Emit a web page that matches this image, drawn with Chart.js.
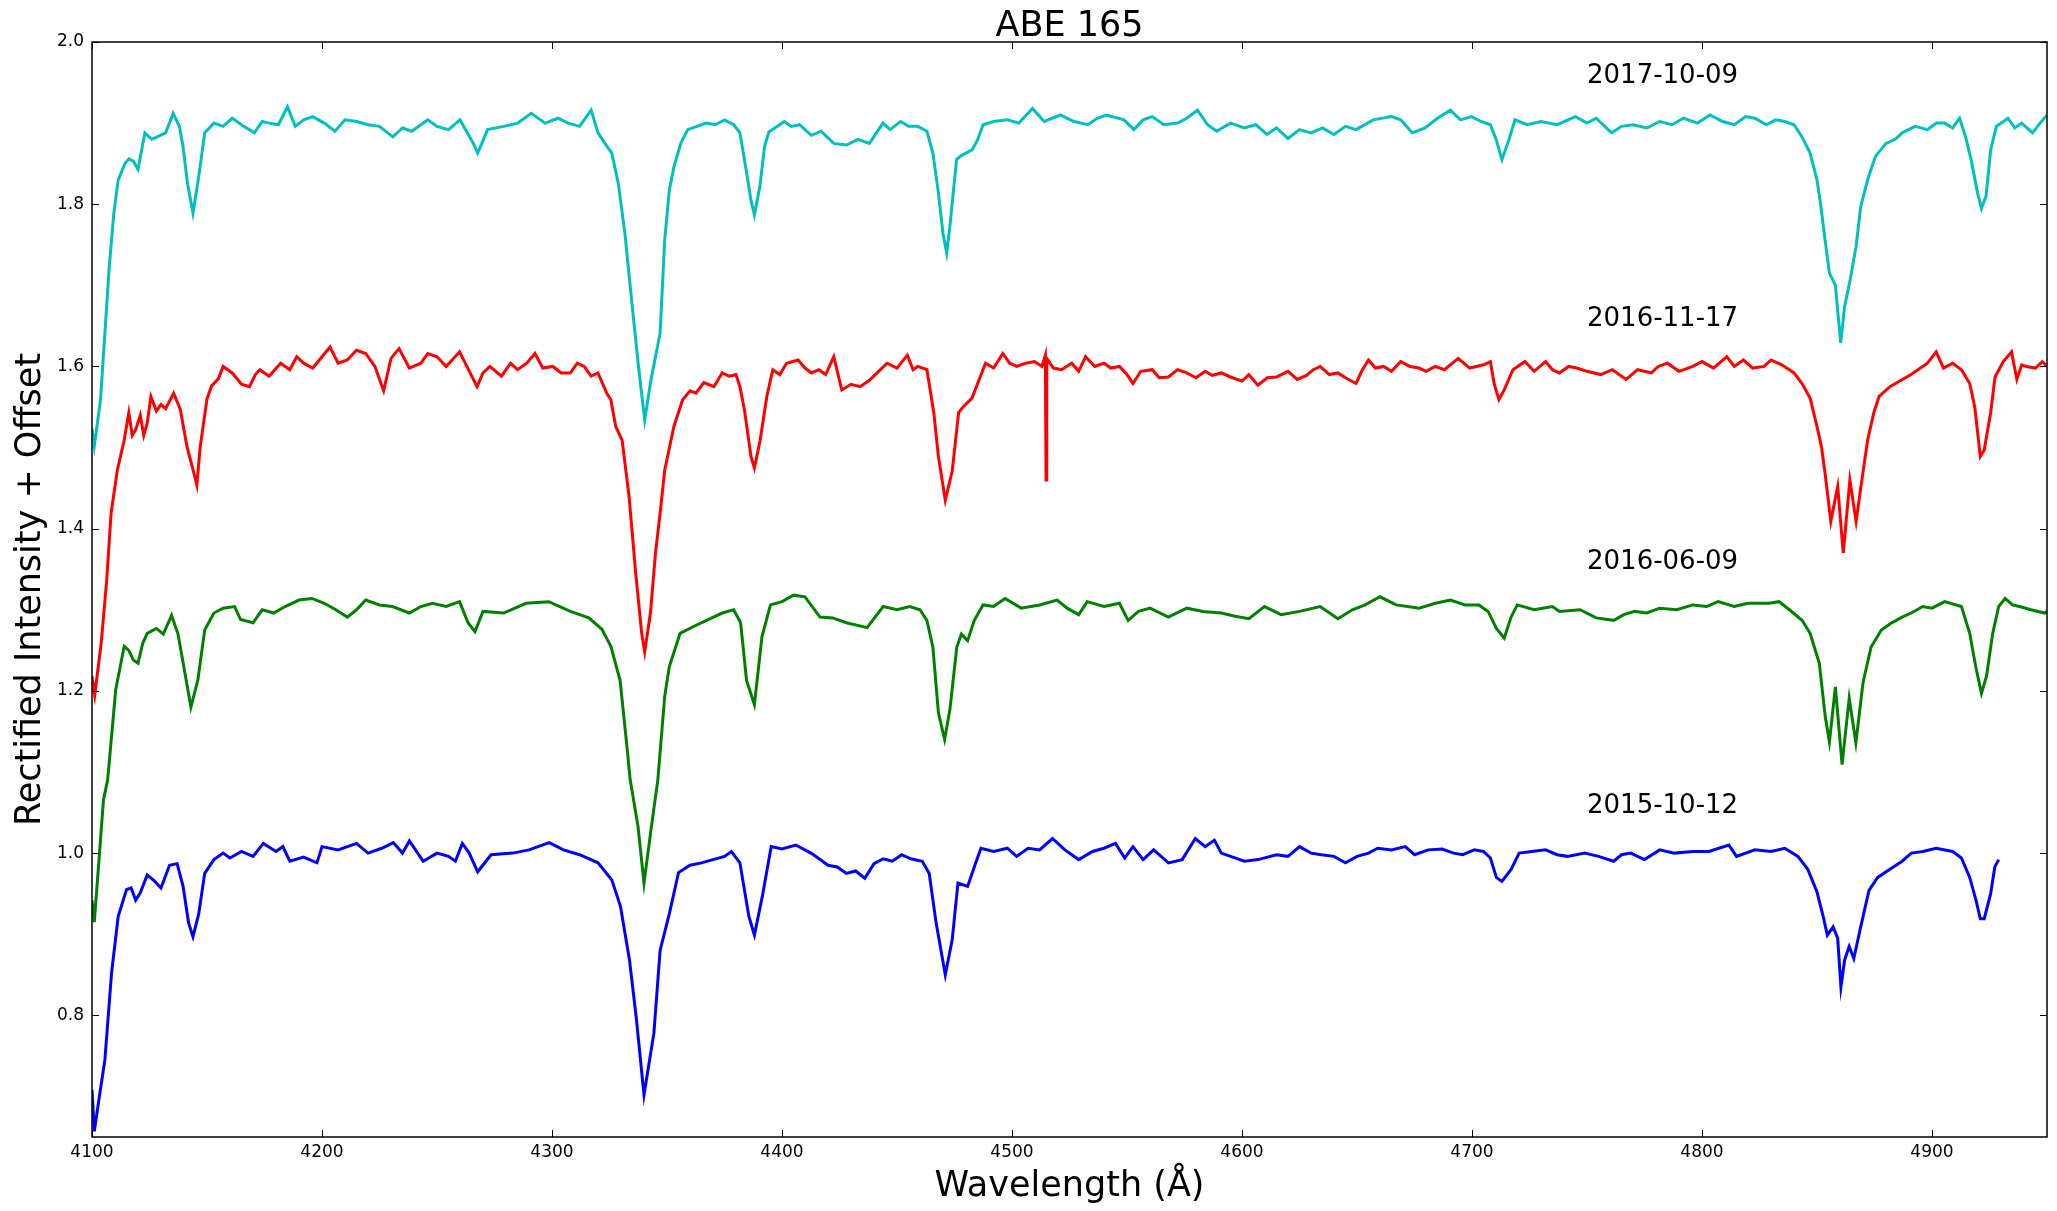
<!DOCTYPE html>
<html>
<head>
<meta charset="utf-8">
<title>ABE 165</title>
<script src="https://cdn.jsdelivr.net/npm/chart.js"></script>
<style>
  html, body { margin: 0; padding: 0; background: #fff; }
  #wrap { width: 2057px; height: 1211px; }
</style>
</head>
<body>
<div id="wrap"><canvas id="myChart" width="2057" height="1211"></canvas></div>
<script>
// Spectra (wavelength in A, rectified flux + offset)
const wave2015 = [4100,4101,4103,4105.6,4108.5,4111.4,4115,4117,4119,4121,4124,4127,4130,4133.7,4137,4139.6,4142,4143.9,4146.4,4149,4153,4157,4160,4165,4170,4174.5,4180,4183,4186,4192,4197.8,4200,4207,4215,4220,4226,4231,4235,4238,4244,4250,4255,4258,4261,4264,4267.7,4273.5,4283,4290,4298.8,4305,4312,4320,4326,4329.8,4333.7,4336.6,4340,4344.3,4347,4351,4355,4360,4365,4370,4375,4378,4381.7,4385.6,4388,4391.4,4395.3,4400,4406,4412.6,4416.6,4420,4424,4428,4432,4436,4440,4444,4448,4452,4456,4461,4464,4467,4471,4474,4476.5,4480.7,4483.6,4486.5,4492,4498,4502,4507,4512,4517.6,4523,4529,4535,4540,4545,4549,4552.6,4557,4561.6,4568,4574,4579.7,4584,4588,4591,4596,4601,4607,4615,4620,4625,4630,4634.5,4640,4645,4650,4655,4659,4665,4671,4675,4681,4687,4692,4696,4701,4705,4708,4710.6,4713,4717,4720.5,4726,4732,4737,4741.5,4749,4755,4761.6,4765,4769,4775,4781.6,4788,4796,4803,4811.7,4815,4823,4830,4836,4841.7,4846,4850,4852.6,4854.5,4857,4859,4860.4,4862,4864,4866,4869,4872.6,4876.4,4881.7,4887,4891,4896,4901.8,4909,4912.8,4916.4,4919.2,4921,4922.7,4925.5,4927.3,4929];
const flux2015 = [0.708,0.657,0.696,0.745,0.852,0.922,0.955,0.957,0.942,0.951,0.973,0.966,0.957,0.985,0.987,0.959,0.914,0.897,0.925,0.975,0.992,1.000,0.994,1.002,0.996,1.012,1.002,1.008,0.990,0.995,0.988,1.008,1.004,1.012,1.000,1.006,1.013,1.000,1.015,0.990,1.000,0.996,0.990,1.012,1.000,0.977,0.998,1.000,1.004,1.013,1.004,0.998,0.988,0.967,0.934,0.868,0.798,0.702,0.778,0.880,0.925,0.976,0.985,0.988,0.992,0.996,1.002,0.988,0.922,0.899,0.946,1.008,1.005,1.010,1.000,0.992,0.985,0.983,0.975,0.978,0.969,0.987,0.993,0.990,0.998,0.993,0.990,0.975,0.914,0.850,0.893,0.963,0.959,0.983,1.006,1.002,1.006,0.996,1.006,1.004,1.018,1.004,0.992,1.002,1.006,1.012,0.994,1.008,0.992,1.004,0.988,0.992,1.018,1.008,1.016,1.000,0.995,0.990,0.992,0.998,0.996,1.008,1.000,0.998,0.996,0.988,0.996,1.000,1.006,1.004,1.008,0.998,1.004,1.005,1.000,0.998,1.004,1.002,0.994,0.970,0.965,0.980,1.000,1.002,1.004,0.998,0.996,1.000,0.996,0.990,0.998,1.000,0.992,1.004,1.000,1.002,1.002,1.010,0.996,1.004,1.002,1.006,0.996,0.980,0.952,0.923,0.899,0.909,0.895,0.835,0.868,0.885,0.870,0.909,0.954,0.970,0.980,0.990,1.000,1.002,1.006,1.002,0.994,0.970,0.941,0.919,0.919,0.950,0.983,0.992];

const wave2016a = [4100,4101,4103,4105,4106.8,4110.3,4114,4116,4118,4120,4122,4124,4128,4131,4134.6,4137.4,4140.4,4143,4146,4149,4153,4157,4162,4164.6,4170,4174,4179,4184,4190,4195.6,4201,4206,4211,4215,4219,4225,4230.6,4238,4243,4248,4254,4259.8,4263.5,4266.5,4270,4279,4288.7,4298.6,4308,4316,4321.7,4325.6,4329.6,4332.6,4334,4337.4,4340,4343,4346,4349,4351,4355.7,4362,4366.5,4374,4379,4382,4384.6,4388,4391.3,4395,4400,4405,4410,4416.5,4422,4428,4437,4444,4450,4455.5,4460,4463,4465.6,4468,4470.7,4473,4476,4478,4480.7,4483.6,4487.4,4492,4497,4504,4512,4519.6,4524,4529,4532.7,4540,4546.7,4550.5,4555,4560,4568,4576,4583,4591,4597,4603,4609.8,4617,4625,4634,4641.7,4648,4653.5,4660,4667,4672,4677,4684,4690.6,4697,4703,4707,4710.6,4714,4717,4719.7,4727,4735,4738,4747,4754,4761.6,4766,4770.7,4776,4781.6,4789,4796,4802,4807,4814,4820,4829,4833.5,4838,4843.5,4847,4851,4853.6,4855.4,4858,4860.9,4864,4866.9,4870,4873.5,4878,4882,4887,4891,4896,4900,4905.5,4912.8,4916.4,4919,4921.5,4923.7,4926.4,4929,4931.8,4935,4938,4943,4949,4950];
const flux2016a = [0.942,0.915,0.990,1.066,1.090,1.201,1.255,1.250,1.238,1.234,1.258,1.271,1.277,1.270,1.293,1.270,1.222,1.180,1.213,1.275,1.296,1.302,1.304,1.288,1.284,1.300,1.296,1.304,1.312,1.314,1.308,1.300,1.291,1.300,1.312,1.306,1.304,1.296,1.304,1.308,1.304,1.310,1.284,1.273,1.298,1.296,1.308,1.310,1.298,1.290,1.276,1.255,1.213,1.131,1.090,1.033,0.963,1.028,1.090,1.193,1.230,1.271,1.280,1.286,1.296,1.300,1.284,1.213,1.183,1.267,1.306,1.310,1.318,1.316,1.291,1.290,1.284,1.278,1.304,1.300,1.304,1.300,1.287,1.254,1.173,1.140,1.177,1.254,1.270,1.262,1.287,1.306,1.304,1.314,1.302,1.306,1.312,1.302,1.294,1.310,1.304,1.308,1.287,1.298,1.302,1.291,1.302,1.298,1.296,1.292,1.289,1.304,1.294,1.298,1.304,1.289,1.300,1.306,1.316,1.306,1.304,1.302,1.308,1.312,1.306,1.306,1.298,1.277,1.265,1.291,1.306,1.300,1.304,1.298,1.300,1.290,1.287,1.294,1.298,1.296,1.302,1.300,1.306,1.304,1.310,1.304,1.308,1.308,1.310,1.300,1.287,1.271,1.234,1.168,1.137,1.205,1.109,1.191,1.136,1.210,1.254,1.275,1.283,1.291,1.296,1.304,1.302,1.310,1.304,1.271,1.230,1.197,1.218,1.271,1.304,1.314,1.306,1.304,1.300,1.296,1.298];

const wave2016b = [4100,4101.2,4104,4106.4,4108.3,4111,4114,4116,4117.5,4119,4121,4122.5,4124,4125.6,4128,4130,4132,4135.5,4138.4,4141.3,4144,4145.6,4147,4150,4152,4155,4157,4161,4165,4168.5,4171,4173,4177,4182,4186,4189,4192,4196,4200,4203.5,4207,4211,4215,4219,4223,4226.8,4230,4233.5,4238,4243,4246,4250,4254,4259.8,4263,4267.4,4270,4273,4278,4282,4285,4289,4292.6,4296,4300.4,4304,4308,4311,4314,4317,4320,4323.8,4325.6,4327.7,4330.5,4333.5,4336.4,4339,4340.3,4342.8,4345,4347,4349,4353,4356.8,4360,4362.6,4366,4370.4,4374,4377,4380,4381.7,4383.7,4386.5,4388,4390.5,4393.4,4396,4399,4402,4407,4410,4412.8,4416,4419,4422.5,4426,4430,4434,4438,4442,4445.7,4450,4454.5,4457,4459,4463,4466,4468,4471,4474,4476.8,4479,4482.6,4485.6,4488.5,4492,4496,4499,4502,4506,4509.8,4513,4514.5,4514.8,4515.1,4518,4521.5,4526,4529,4532,4536,4540,4543,4546.7,4550,4552.6,4556,4561,4564,4568,4572,4576,4580,4584,4587,4591,4595,4600,4603,4606.9,4611,4615,4620,4624,4628,4631,4634,4638,4641.7,4645,4649.6,4652,4655,4658,4661.6,4665,4669,4673,4677,4680,4684,4688,4694,4699,4705,4708,4709.6,4711.7,4714,4717.8,4723,4727,4732,4735,4738,4742,4745.5,4750,4756,4761,4767,4772,4778,4781,4785,4790,4796,4800,4805,4810.8,4814,4818,4822,4827,4830,4834.7,4840,4843.5,4847,4850,4852,4853.7,4856,4859,4861.4,4864.3,4867,4869,4872,4874.7,4877,4881.7,4886,4890.9,4895,4898,4901.8,4905,4909,4912.8,4916.4,4918.6,4921,4922.7,4925.5,4927.4,4931,4934.6,4936.9,4939,4941,4945,4948,4950];
const flux2016b = [1.218,1.195,1.259,1.337,1.419,1.472,1.509,1.543,1.515,1.522,1.540,1.515,1.530,1.563,1.545,1.553,1.548,1.567,1.547,1.501,1.472,1.454,1.500,1.560,1.576,1.585,1.600,1.592,1.578,1.575,1.590,1.596,1.588,1.604,1.596,1.612,1.604,1.598,1.612,1.624,1.604,1.608,1.620,1.616,1.600,1.570,1.610,1.622,1.598,1.604,1.616,1.612,1.600,1.618,1.600,1.575,1.592,1.600,1.588,1.604,1.596,1.604,1.616,1.598,1.600,1.592,1.592,1.604,1.600,1.588,1.592,1.567,1.559,1.526,1.509,1.440,1.345,1.271,1.248,1.296,1.370,1.419,1.472,1.526,1.559,1.570,1.567,1.580,1.575,1.592,1.588,1.590,1.575,1.546,1.489,1.475,1.509,1.563,1.596,1.590,1.604,1.608,1.598,1.592,1.596,1.590,1.612,1.571,1.578,1.575,1.583,1.594,1.604,1.598,1.614,1.596,1.600,1.596,1.543,1.489,1.435,1.471,1.543,1.551,1.561,1.583,1.604,1.598,1.616,1.604,1.600,1.604,1.606,1.600,1.614,1.460,1.610,1.598,1.596,1.604,1.594,1.612,1.600,1.604,1.598,1.600,1.590,1.579,1.594,1.596,1.586,1.587,1.596,1.592,1.586,1.594,1.589,1.592,1.587,1.582,1.590,1.577,1.586,1.587,1.594,1.584,1.589,1.596,1.600,1.590,1.592,1.586,1.579,1.594,1.608,1.598,1.600,1.594,1.606,1.600,1.598,1.594,1.600,1.596,1.610,1.598,1.602,1.606,1.579,1.559,1.571,1.596,1.606,1.594,1.606,1.596,1.592,1.600,1.598,1.594,1.590,1.596,1.584,1.596,1.592,1.600,1.604,1.594,1.600,1.606,1.598,1.612,1.600,1.608,1.598,1.600,1.608,1.602,1.592,1.579,1.561,1.526,1.500,1.464,1.409,1.452,1.370,1.460,1.409,1.450,1.509,1.543,1.563,1.575,1.582,1.590,1.598,1.604,1.618,1.598,1.604,1.596,1.579,1.550,1.489,1.497,1.543,1.587,1.606,1.618,1.584,1.602,1.600,1.598,1.606,1.600];

const wave2017 = [4100,4101,4103.7,4105.6,4107.5,4109.5,4111.4,4114.3,4116,4118,4120,4123,4126,4129,4132,4135.3,4138,4139.6,4141.5,4143.9,4146.4,4149,4153,4157,4161,4166,4170.6,4174,4177,4181,4185,4188.4,4192,4196,4201,4205.6,4210,4215,4220,4225,4230.8,4235,4239,4246,4250,4255,4260,4265.8,4267.7,4272,4279,4285,4291,4297,4302.6,4307,4312,4317,4320,4323,4326,4328.8,4331.7,4334.6,4337.6,4340.3,4343,4347,4349,4351,4353,4356,4359,4363,4367,4371,4375,4379,4381.7,4384.6,4386.5,4388,4390.4,4392.4,4394.3,4401,4404,4407.6,4412.8,4417,4422.5,4428,4433,4438,4443.9,4447,4451.6,4455,4459,4463,4465.6,4468,4470,4471.6,4473,4475.9,4478,4482.6,4485,4487.4,4492,4498,4503,4508.9,4514,4521,4527,4533,4537,4541,4548.7,4553,4557,4561,4566,4572,4576,4580.7,4585,4589,4595,4601,4606,4610.8,4615,4620,4625,4630,4635,4640,4645,4649.6,4657,4665,4669,4674,4679.6,4685,4690.6,4695,4699.8,4704,4708,4710.6,4713,4716,4718.7,4724,4730,4737,4745,4750,4754,4760.7,4765,4770,4776,4781.6,4787,4792,4798,4803.5,4809,4814,4819,4823,4828,4832,4836,4840,4843.5,4847,4850,4851.7,4853.5,4855.4,4858,4860.3,4862,4864.3,4867,4869,4872,4875.4,4880,4884,4887,4892.7,4898,4902,4905.5,4909,4912,4914.6,4917,4919.8,4921.5,4923.5,4925.5,4928,4933,4936,4939,4943.7,4947,4950];
const flux2017 = [1.523,1.502,1.559,1.641,1.723,1.789,1.830,1.850,1.856,1.853,1.843,1.888,1.880,1.884,1.888,1.912,1.896,1.871,1.826,1.789,1.834,1.888,1.900,1.896,1.906,1.896,1.888,1.902,1.900,1.898,1.920,1.896,1.904,1.908,1.900,1.890,1.904,1.902,1.898,1.896,1.883,1.894,1.890,1.904,1.896,1.892,1.904,1.875,1.863,1.892,1.896,1.900,1.912,1.900,1.906,1.900,1.896,1.916,1.888,1.875,1.863,1.826,1.764,1.682,1.600,1.534,1.583,1.641,1.756,1.817,1.846,1.875,1.892,1.896,1.900,1.898,1.904,1.898,1.888,1.839,1.805,1.787,1.822,1.871,1.889,1.902,1.896,1.898,1.885,1.890,1.875,1.873,1.880,1.875,1.900,1.892,1.902,1.896,1.896,1.890,1.863,1.814,1.764,1.740,1.773,1.855,1.860,1.867,1.879,1.898,1.902,1.904,1.900,1.918,1.902,1.910,1.902,1.898,1.906,1.910,1.904,1.892,1.904,1.908,1.898,1.900,1.906,1.916,1.898,1.890,1.900,1.894,1.898,1.886,1.894,1.881,1.892,1.888,1.894,1.886,1.896,1.892,1.904,1.908,1.904,1.888,1.894,1.906,1.916,1.904,1.908,1.902,1.898,1.879,1.855,1.879,1.904,1.898,1.902,1.898,1.908,1.900,1.906,1.888,1.896,1.898,1.894,1.902,1.898,1.906,1.900,1.910,1.902,1.898,1.908,1.906,1.898,1.904,1.902,1.898,1.883,1.863,1.830,1.797,1.756,1.715,1.700,1.629,1.674,1.705,1.748,1.797,1.830,1.859,1.875,1.880,1.888,1.896,1.892,1.900,1.900,1.894,1.906,1.883,1.855,1.814,1.795,1.810,1.867,1.896,1.906,1.894,1.900,1.888,1.900,1.910];

const seriesDates = ['2015-10-12', '2016-06-09', '2016-11-17', '2017-10-09'];
const seriesColors = ['#0000FF', '#008000', '#FF0000', '#00BFBF'];
const labelWave = 4750;
const labelLevels = [1.05, 1.35, 1.65, 1.95];

const xTicks = [4100, 4200, 4300, 4400, 4500, 4600, 4700, 4800, 4900];
const yTicks = [0.8, 1.0, 1.2, 1.4, 1.6, 1.8, 2.0];

document.addEventListener("DOMContentLoaded", function() {
    const ctx = document.getElementById('myChart').getContext('2d');
    const FONT = "'DejaVu Sans', 'Liberation Sans', sans-serif";
    Chart.defaults.font.family = FONT;

    function toPoints(w, f) {
        return w.map((x, i) => ({ x: x, y: f[i] }));
    }

    const waves = [wave2015, wave2016a, wave2016b, wave2017];
    const fluxes = [flux2015, flux2016a, flux2016b, flux2017];

    const datasets = waves.map((w, i) => ({
        label: seriesDates[i],
        data: toPoints(w, fluxes[i]),
        borderColor: seriesColors[i],
        backgroundColor: seriesColors[i],
        borderWidth: 3,
        pointRadius: 0,
        tension: 0,
        fill: false
    }));

    // matplotlib-ish frame: box, inward ticks on all sides, texts
    const framePlugin = {
        id: 'frame',
        afterDraw(chart) {
            const c = chart.ctx;
            const a = chart.chartArea;
            const xs = chart.scales.x, ys = chart.scales.y;
            c.save();
            c.strokeStyle = '#000';
            c.lineWidth = 1.5;
            c.strokeRect(a.left, a.top, a.right - a.left, a.bottom - a.top);

            c.lineWidth = 1;
            const tl = 7;
            c.beginPath();
            xTicks.forEach(v => {
                const px = Math.round(xs.getPixelForValue(v)) + 0.5;
                c.moveTo(px, a.bottom); c.lineTo(px, a.bottom - tl);
                c.moveTo(px, a.top); c.lineTo(px, a.top + tl);
            });
            yTicks.forEach(v => {
                const py = Math.round(ys.getPixelForValue(v)) + 0.5;
                c.moveTo(a.left, py); c.lineTo(a.left + tl, py);
                c.moveTo(a.right, py); c.lineTo(a.right - tl, py);
            });
            c.stroke();

            // date labels
            c.fillStyle = '#000';
            c.font = '26px ' + FONT;
            c.textAlign = 'left';
            c.textBaseline = 'alphabetic';
            seriesDates.forEach((d, i) => {
                c.fillText(d, xs.getPixelForValue(labelWave), ys.getPixelForValue(labelLevels[i]));
            });

            // title and axis titles
            const cx = (a.left + a.right) / 2;
            c.textAlign = 'center';
            c.font = '35px ' + FONT;
            c.fillText('ABE 165', cx, 36);
            c.textBaseline = 'middle';
            c.fillText('Wavelength (\u00C5)', cx, 1187);
            c.translate(31, (a.top + a.bottom) / 2);
            c.rotate(-Math.PI / 2);
            c.fillText('Rectified Intensity + Offset', 0, 0);
            c.restore();
        }
    };

    new Chart(ctx, {
        type: 'line',
        data: { datasets: datasets },
        options: {
            responsive: false,
            animation: false,
            layout: { padding: { left: 0, top: 42, right: 10, bottom: 0 } },
            plugins: {
                legend: { display: false },
                tooltip: { enabled: false },
                title: { display: false }
            },
            scales: {
                x: {
                    type: 'linear',
                    min: 4100,
                    max: 4950,
                    grid: { display: false, drawTicks: false },
                    border: { display: false },
                    afterBuildTicks: s => { s.ticks = xTicks.map(v => ({ value: v })); },
                    afterFit: s => { s.height = 74; },
                    ticks: {
                        color: '#000',
                        padding: 5,
                        maxRotation: 0,
                        font: { size: 17 },
                        callback: v => String(v)
                    }
                },
                y: {
                    type: 'linear',
                    min: 0.65,
                    max: 2.0,
                    grid: { display: false, drawTicks: false },
                    border: { display: false },
                    afterBuildTicks: s => { s.ticks = yTicks.map(v => ({ value: v })); },
                    afterFit: s => { s.width = 92; },
                    ticks: {
                        color: '#000',
                        padding: 8,
                        font: { size: 17 },
                        callback: v => Number(v).toFixed(1)
                    }
                }
            }
        },
        plugins: [framePlugin]
    });
});
</script>
</body>
</html>
